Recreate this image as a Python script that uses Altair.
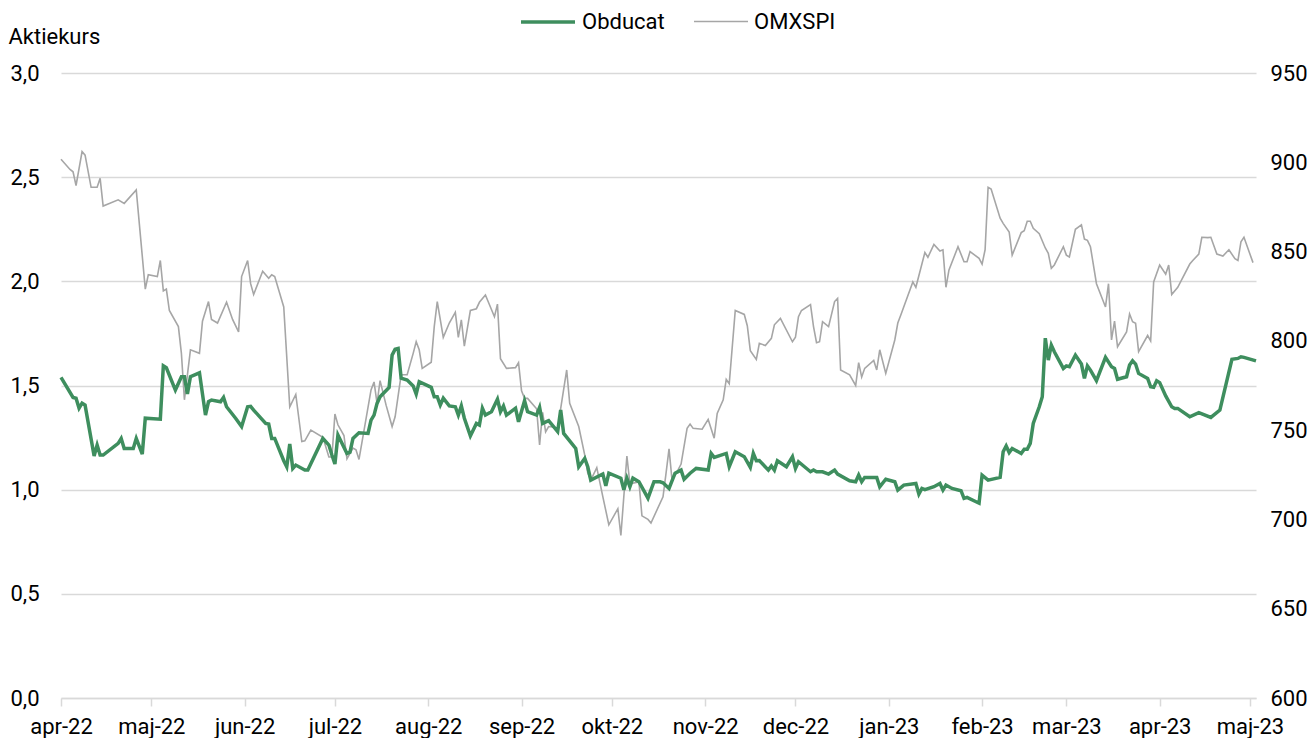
import altair as alt
import pandas as pd

START = "2022-04-01"

# Obducat share price (SEK), days since START
obducat_day = [0, 4, 5, 6, 7, 8, 11, 12, 13, 14, 19, 20, 21, 24, 25, 27, 28, 33, 34, 35,
               38, 40, 41, 42, 43, 46, 48, 49, 50, 53, 54, 55, 58, 60, 62, 63, 64, 68, 69, 70,
               71, 74, 75, 76, 77, 78, 81, 82, 87, 89, 90, 91, 92, 95, 96, 97, 99, 102, 103, 104,
               105, 106, 109, 110, 111, 112, 113, 115, 117, 118, 119, 123, 124, 125, 126, 127, 129, 131, 132, 133,
               134, 136, 138, 139, 140, 141, 143, 145, 146, 147, 148, 151, 152, 154, 155, 158, 159, 160, 162, 165,
               166, 167, 171, 172, 174, 175, 176, 180, 181, 182, 186, 187, 188, 189, 190, 192, 195, 197, 199, 200,
               202, 204, 206, 207, 209, 211, 215, 216, 217, 221, 222, 224, 227, 229, 230, 231, 232, 235, 236, 237,
               238, 241, 243, 244, 245, 249, 250, 251, 253, 255, 257, 258, 262, 264, 265, 266, 267, 271, 272, 274,
               277, 278, 280, 284, 285, 286, 287, 290, 292, 293, 294, 296, 299, 300, 301, 305, 306, 308, 312, 313,
               314, 315, 316, 319, 320, 321, 322, 323, 325, 326, 327, 328, 329, 330, 333, 334, 335, 337, 339, 340,
               341, 342, 344, 347, 349, 350, 351, 354, 355, 356, 357, 358, 361, 362, 363, 364, 365, 367, 369, 370,
               371, 375, 378, 382, 385, 389, 391, 392, 393, 397]
obducat_kurs = [1.539, 1.443, 1.439, 1.391, 1.415, 1.406, 1.162, 1.214, 1.166, 1.166, 1.222, 1.246, 1.198, 1.198, 1.246, 1.171, 1.343, 1.338, 1.594, 1.585,
                1.478, 1.542, 1.542, 1.459, 1.542, 1.561, 1.358, 1.422, 1.430, 1.422, 1.443, 1.398, 1.343, 1.303, 1.398, 1.400, 1.382, 1.318, 1.315, 1.246,
                1.246, 1.139, 1.110, 1.219, 1.102, 1.118, 1.094, 1.094, 1.246, 1.214, 1.166, 1.123, 1.262, 1.174, 1.180, 1.246, 1.273, 1.270, 1.334, 1.358,
                1.414, 1.446, 1.491, 1.646, 1.674, 1.678, 1.535, 1.526, 1.498, 1.459, 1.518, 1.491, 1.446, 1.446, 1.406, 1.439, 1.402, 1.398, 1.358, 1.402,
                1.343, 1.258, 1.318, 1.310, 1.391, 1.358, 1.374, 1.434, 1.374, 1.402, 1.358, 1.391, 1.326, 1.427, 1.374, 1.358, 1.395, 1.318, 1.331, 1.279,
                1.382, 1.270, 1.198, 1.110, 1.150, 1.110, 1.046, 1.075, 1.018, 1.079, 1.055, 0.999, 1.055, 1.014, 1.055, 1.038, 0.959, 1.038, 1.038, 1.033,
                1.006, 1.079, 1.094, 1.050, 1.079, 1.102, 1.094, 1.174, 1.155, 1.174, 1.110, 1.182, 1.158, 1.107, 1.174, 1.139, 1.140, 1.094, 1.114, 1.094,
                1.139, 1.110, 1.158, 1.102, 1.134, 1.086, 1.094, 1.086, 1.086, 1.075, 1.094, 1.075, 1.043, 1.038, 1.070, 1.038, 1.059, 1.059, 1.014, 1.050,
                1.038, 0.998, 1.022, 1.030, 0.979, 1.006, 1.000, 1.014, 1.030, 0.998, 1.022, 1.006, 0.995, 0.958, 0.963, 0.935, 1.070, 1.046, 1.059, 1.182,
                1.210, 1.178, 1.198, 1.174, 1.194, 1.194, 1.222, 1.318, 1.398, 1.446, 1.727, 1.622, 1.694, 1.662, 1.582, 1.594, 1.590, 1.646, 1.603, 1.534,
                1.594, 1.574, 1.523, 1.635, 1.590, 1.582, 1.530, 1.542, 1.598, 1.619, 1.603, 1.558, 1.534, 1.494, 1.491, 1.523, 1.514, 1.450, 1.398, 1.390,
                1.390, 1.350, 1.370, 1.347, 1.382, 1.626, 1.630, 1.638, 1.635, 1.618]

# OMXSPI index, days since START
omx_day = [0, 3, 4, 5, 7, 8, 10, 12, 13, 14, 19, 21, 25, 28, 29, 32, 33, 34, 35, 36,
           39, 40, 41, 43, 46, 47, 49, 50, 52, 55, 57, 59, 60, 62, 63, 64, 67, 69, 70, 71,
           74, 76, 78, 80, 81, 83, 87, 89, 90, 91, 92, 94, 95, 97, 98, 99, 103, 104, 105, 106,
           108, 110, 111, 113, 115, 117, 118, 119, 120, 123, 124, 125, 127, 129, 131, 132, 133, 134, 136, 138,
           139, 141, 144, 145, 146, 148, 151, 152, 153, 154, 155, 158, 159, 160, 161, 162, 164, 165, 166, 168,
           169, 172, 174, 175, 176, 178, 180, 182, 185, 186, 188, 189, 192, 193, 195, 196, 200, 201, 202, 203,
           205, 206, 208, 209, 210, 213, 215, 217, 218, 220, 221, 222, 224, 227, 228, 229, 231, 232, 234, 236,
           237, 239, 243, 244, 245, 246, 249, 250, 251, 252, 253, 255, 257, 258, 259, 262, 264, 265, 266, 267,
           270, 271, 272, 274, 277, 278, 279, 283, 284, 287, 288, 290, 292, 293, 294, 295, 298, 300, 301, 302,
           305, 306, 307, 308, 309, 312, 313, 315, 316, 319, 320, 321, 322, 323, 325, 327, 328, 329, 330, 333,
           334, 335, 337, 339, 340, 341, 342, 344, 347, 348, 349, 350, 351, 354, 355, 356, 357, 358, 361, 362,
           363, 365, 367, 368, 369, 371, 375, 376, 378, 379, 381, 382, 384, 386, 388, 390, 391, 392, 393, 396]
omx_index = [901.7, 896.0, 894.7, 887.0, 906.0, 904.0, 886.0, 886.0, 891.0, 875.5, 879.0, 877.0, 884.5, 829.0, 837.0, 836.0, 845.0, 828.0, 829.0, 817.0,
             808.0, 793.0, 767.0, 795.0, 793.0, 811.0, 822.0, 812.0, 810.0, 821.6, 812.0, 805.0, 836.0, 845.0, 832.0, 826.0, 839.0, 835.0, 837.0, 836.0,
             819.0, 763.0, 770.0, 743.6, 744.0, 750.0, 746.0, 735.0, 735.0, 759.0, 753.0, 747.0, 734.0, 740.0, 739.0, 733.6, 772.5, 777.0, 765.0, 777.7,
             764.0, 752.0, 757.5, 781.0, 781.0, 793.0, 799.5, 795.0, 784.6, 788.0, 808.0, 822.0, 802.0, 810.0, 816.0, 802.0, 811.7, 797.0, 817.0, 818.0,
             821.6, 825.7, 813.5, 820.6, 790.0, 784.6, 785.0, 787.8, 772.0, 767.8, 767.8, 762.0, 741.7, 760.0, 749.0, 752.0, 751.6, 749.0, 762.0, 783.7,
             765.0, 752.0, 736.0, 726.0, 722.0, 729.0, 712.8, 697.0, 706.0, 691.0, 735.5, 720.0, 721.0, 702.0, 700.0, 698.0, 712.7, 725.8, 739.5, 722.0,
             727.7, 731.0, 751.0, 753.4, 751.0, 750.5, 756.0, 745.5, 759.4, 767.0, 778.4, 776.0, 817.0, 814.8, 808.5, 794.5, 789.6, 798.6, 797.4, 801.4,
             809.0, 812.6, 799.5, 802.0, 813.5, 817.0, 820.3, 808.0, 799.0, 799.5, 810.7, 808.0, 822.0, 823.8, 783.7, 781.0, 775.0, 787.8, 779.7, 784.6,
             789.0, 783.7, 795.0, 781.8, 800.5, 810.0, 814.5, 833.0, 830.0, 849.5, 846.8, 854.0, 850.3, 851.0, 830.0, 839.7, 852.7, 844.3, 844.3, 850.0,
             846.2, 843.0, 851.0, 886.0, 885.0, 868.7, 865.8, 861.0, 848.0, 860.6, 861.7, 867.0, 867.0, 863.0, 860.0, 852.0, 849.0, 840.6, 842.5, 852.7,
             848.0, 847.0, 862.5, 865.0, 857.0, 856.3, 852.7, 832.0, 819.0, 832.0, 800.5, 811.0, 796.7, 805.0, 815.0, 810.7, 809.8, 794.0, 803.0, 800.0,
             833.0, 842.5, 837.4, 842.5, 826.0, 830.0, 843.0, 845.0, 848.6, 858.0, 857.8, 858.0, 848.6, 847.5, 851.0, 846.0, 845.0, 855.5, 858.0, 843.8]

series_names = ["Obducat", "OMXSPI"]
series_colors = ["#3e8e5e", "#a6a6a6"]
series_widths = [3.5, 1.6]
month_names = ["jan", "feb", "mar", "apr", "maj", "jun", "jul", "aug", "sep", "okt", "nov", "dec"]
month_ticks = [(2022, 4), (2022, 5), (2022, 6), (2022, 7), (2022, 8), (2022, 9), (2022, 10),
               (2022, 11), (2022, 12), (2023, 1), (2023, 2), (2023, 3), (2023, 4), (2023, 5)]
left_ticks = [0.0, 0.5, 1.0, 1.5, 2.0, 2.5, 3.0]
right_ticks = [600, 650, 700, 750, 800, 850, 900, 950]

start = pd.Timestamp(START)
df_obd = pd.DataFrame({
    "date": start + pd.to_timedelta(obducat_day, unit="D"),
    "value": obducat_kurs,
    "series": series_names[0],
})
df_omx = pd.DataFrame({
    "date": start + pd.to_timedelta(omx_day, unit="D"),
    "value": omx_index,
    "series": series_names[1],
})

FONT = "Roboto"
FS = 22
GRID = "#d9d9d9"

month_arr = "[" + ",".join("'%s'" % m for m in month_names) + "]"
x_enc = alt.X(
    "date:T",
    scale=alt.Scale(domain=[alt.DateTime(year=2022, month=4, date=1),
                            alt.DateTime(year=2023, month=5, date=3)]),
    axis=alt.Axis(
        values=[alt.DateTime(year=y, month=m, date=1) for y, m in month_ticks],
        labelExpr=month_arr + "[month(datum.value)] + '-' + timeFormat(datum.value, '%y')",
        grid=False, domain=True, domainColor=GRID, domainWidth=1.5,
        ticks=True, tickColor=GRID, tickWidth=1.5, tickSize=8,
        labelPadding=10, labelAlign="center", title=None,
    ),
)

legend_kw = dict(
    orient="none", legendX=458, legendY=-80, direction="horizontal",
    title=None, symbolType="stroke", symbolSize=2916,
    columnPadding=25, labelOffset=5,
)
color_enc = alt.Color(
    "series:N",
    scale=alt.Scale(domain=series_names, range=series_colors),
    legend=alt.Legend(**legend_kw),
)
width_enc = alt.StrokeWidth(
    "series:N",
    scale=alt.Scale(domain=series_names, range=series_widths),
    legend=alt.Legend(**legend_kw),
)

omx_layer = alt.Chart(df_omx).mark_line(interpolate="linear").encode(
    x=x_enc,
    y=alt.Y(
        "value:Q",
        scale=alt.Scale(domain=[600, 950], nice=False, zero=False),
        axis=alt.Axis(orient="right", values=right_ticks, grid=False, domain=False,
                      ticks=False, labelPadding=14, labelAlign="left", title=None),
    ),
    color=color_enc,
    strokeWidth=width_enc,
)

obd_layer = alt.Chart(df_obd).mark_line(interpolate="linear").encode(
    x=x_enc,
    y=alt.Y(
        "value:Q",
        scale=alt.Scale(domain=[0, 3], nice=False),
        axis=alt.Axis(orient="left", values=left_ticks,
                      labelExpr="replace(format(datum.value, '.1f'), '.', ',')",
                      grid=True, gridColor=GRID, gridWidth=1.5, domain=False, ticks=False,
                      labelPadding=22, title="Aktiekurs", titleAngle=0, titleX=-53, titleY=-37,
                      titleAlign="left", titleBaseline="middle", titleFontWeight="normal",
                      titleFontSize=FS, titleFont=FONT, titleColor="#000"),
    ),
    color=color_enc,
    strokeWidth=width_enc,
)

chart = alt.layer(omx_layer, obd_layer).resolve_scale(y="independent").properties(
    width=1195, height=625,
    autosize=alt.AutoSizeParams(type="none"),
    padding={"left": 53, "top": 65, "right": 52, "bottom": 40},
).configure_view(stroke=None).configure_axis(
    labelFont=FONT, labelFontSize=FS, labelColor="#000",
).configure_legend(
    labelFont=FONT, labelFontSize=FS, labelColor="#000",
)

chart.save("out.html", embed_options={"renderer": "svg", "actions": False})
